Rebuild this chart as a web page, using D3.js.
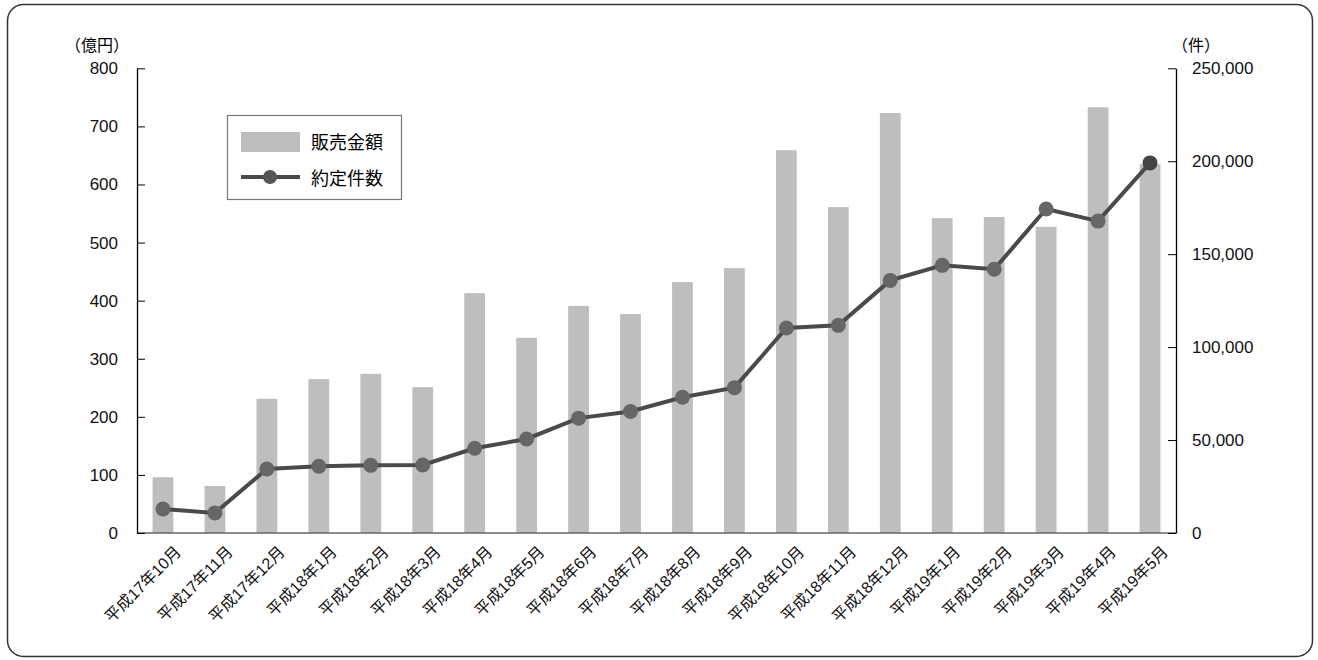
<!DOCTYPE html>
<html>
<head>
<meta charset="utf-8">
<script src="https://cdn.jsdelivr.net/npm/d3@7"></script>
<style>
  body { margin: 0; background: #fff; }
  svg { display: block; font-family: "Liberation Sans", Arial, "Noto Sans CJK JP", sans-serif; }
  .axis text { font-size: 17px; fill: #111; }
  .xlab { font-size: 16px; fill: #111; }
</style>
</head>
<body>
<svg id="svg" width="1318" height="660"></svg>
<script>
"use strict";

const months = ["平成17年10月", "平成17年11月", "平成17年12月", "平成18年1月", "平成18年2月",
    "平成18年3月", "平成18年4月", "平成18年5月", "平成18年6月", "平成18年7月", "平成18年8月",
    "平成18年9月", "平成18年10月", "平成18年11月", "平成18年12月", "平成19年1月", "平成19年2月",
    "平成19年3月", "平成19年4月", "平成19年5月"];
const sales = [96, 81, 231, 265, 274, 251, 413, 336, 391, 377, 432, 456, 659, 561, 723, 542, 544, 527, 733, 635];
const contracts = [12900, 10800, 34400, 35900, 36400, 36600, 45600, 50600, 61800, 65400, 73000, 78200,
    110300, 111700, 135900, 144000, 141900, 174300, 167800, 199100];
const leftTicks = [0, 100, 200, 300, 400, 500, 600, 700, 800];
const rightTicks = [0, 50000, 100000, 150000, 200000, 250000];
const legendLabels = ["販売金額", "約定件数"];

const plotLeft = 137, plotRight = 1176, plotTop = 68.3, plotBottom = 533;

var svg = d3.select("svg");

// frame
svg.append("rect")
    .attr("x", 7.5).attr("y", 4.5)
    .attr("width", 1305).attr("height", 652)
    .attr("rx", 16)
    .attr("fill", "#fff")
    .attr("stroke", "#333")
    .attr("stroke-width", 1.5);

var x = d3.scaleBand()
    .domain(months)
    .range([plotLeft, plotRight])
    .paddingInner(0.6)
    .paddingOuter(0.3);

var yL = d3.scaleLinear().domain([0, 800]).range([plotBottom, plotTop]);
var yR = d3.scaleLinear().domain([0, 250000]).range([plotBottom, plotTop]);

// bars
svg.append("g")
    .selectAll("rect")
    .data(sales)
    .enter()
    .append("rect")
        .attr("x", (d, i) => x(months[i]))
        .attr("y", d => yL(d))
        .attr("width", x.bandwidth())
        .attr("height", d => plotBottom - yL(d))
        .attr("fill", "#bebebe");

// x axis baseline
svg.append("line")
    .attr("x1", plotLeft).attr("x2", plotRight)
    .attr("y1", plotBottom).attr("y2", plotBottom)
    .attr("stroke", "#666")
    .attr("stroke-width", 1.5);

// left axis
var gL = svg.append("g")
    .attr("class", "axis")
    .attr("transform", "translate(" + plotLeft + ",0)")
    .call(d3.axisRight(yL).tickValues(leftTicks).tickSize(8).tickSizeOuter(0));
gL.select(".domain").attr("stroke", "#000").attr("stroke-width", 1.3);
gL.selectAll("text").attr("x", -19).attr("text-anchor", "end");

// right axis
var gR = svg.append("g")
    .attr("class", "axis")
    .attr("transform", "translate(" + plotRight + ",0)")
    .call(d3.axisLeft(yR).tickValues(rightTicks).tickSize(8).tickSizeOuter(0)
        .tickFormat(d3.format(",")));
gR.select(".domain").attr("stroke", "#000").attr("stroke-width", 1.3);
gR.selectAll("text").attr("x", 16).attr("text-anchor", "start");

// units
svg.append("text").attr("x", 129).attr("y", 51).attr("text-anchor", "end")
    .style("font-size", "16px").text("（億円）");
svg.append("text").attr("x", 1172).attr("y", 51)
    .style("font-size", "16px").text("（件）");

// x labels
svg.append("g")
    .selectAll("text")
    .data(months)
    .enter()
    .append("text")
        .attr("class", "xlab")
        .attr("text-anchor", "end")
        .attr("transform", d => "translate(" + (x(d) + x.bandwidth() / 2 + 19) + "," + (plotBottom + 20) + ") rotate(-45)")
        .text(d => d);

// line
var line = d3.line()
    .x((d, i) => x(months[i]) + x.bandwidth() / 2)
    .y(d => yR(d));

svg.append("path")
    .datum(contracts)
    .attr("d", line)
    .attr("fill", "none")
    .attr("stroke", "#4a4a4a")
    .attr("stroke-width", 4);

svg.append("g")
    .selectAll("circle")
    .data(contracts)
    .enter()
    .append("circle")
        .attr("cx", (d, i) => x(months[i]) + x.bandwidth() / 2)
        .attr("cy", d => yR(d))
        .attr("r", 7.5)
        .attr("fill", (d, i) => i === contracts.length - 1 ? "#444" : "#666");

// legend
var lg = svg.append("g");
lg.append("rect")
    .attr("x", 227.5).attr("y", 115.5)
    .attr("width", 174).attr("height", 84)
    .attr("fill", "#fff")
    .attr("stroke", "#777")
    .attr("stroke-width", 1.2);
lg.append("rect")
    .attr("x", 241).attr("y", 132)
    .attr("width", 59).attr("height", 20)
    .attr("fill", "#bebebe");
lg.append("line")
    .attr("x1", 241).attr("x2", 300)
    .attr("y1", 177).attr("y2", 177)
    .attr("stroke", "#4a4a4a")
    .attr("stroke-width", 4);
lg.append("circle")
    .attr("cx", 270).attr("cy", 177).attr("r", 7)
    .attr("fill", "#555");
lg.selectAll(".lt")
    .data(legendLabels)
    .enter()
    .append("text")
        .attr("class", "lt")
        .attr("x", 311)
        .attr("y", (d, i) => 149 + i * 36)
        .style("font-size", "18px")
        .text(d => d);
</script>
</body>
</html>
